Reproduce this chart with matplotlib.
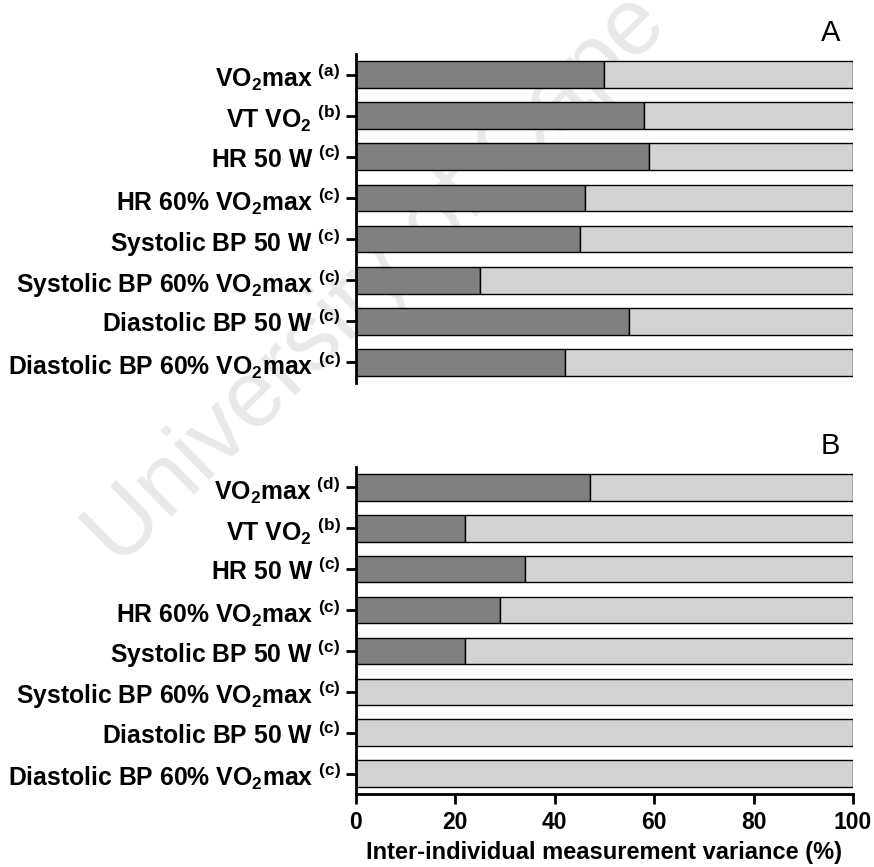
import numpy as np
import matplotlib.pyplot as plt

plt.rcParams['font.family'] = ['Liberation Sans', 'DejaVu Sans']
plt.rcParams['mathtext.fontset'] = 'custom'
plt.rcParams['mathtext.rm'] = 'Liberation Sans:bold'
plt.rcParams['mathtext.it'] = 'Liberation Sans:bold'
plt.rcParams['mathtext.bf'] = 'Liberation Sans:bold'
plt.rcParams['mathtext.default'] = 'rm'

# variables and the reference letter for each
variables = ['VO$_2$max', 'VT VO$_2$', 'HR 50 W', 'HR 60% VO$_2$max',
             'Systolic BP 50 W', 'Systolic BP 60% VO$_2$max',
             'Diastolic BP 50 W', 'Diastolic BP 60% VO$_2$max']
refs_a = ['a', 'b', 'c', 'c', 'c', 'c', 'c', 'c']
refs_b = ['d', 'b', 'c', 'c', 'c', 'c', 'c', 'c']

# inter-individual share of measurement variance (%)
inter_a = [50, 58, 59, 46, 45, 25, 55, 42]
inter_b = [47, 22, 34, 29, 22, 0, 0, 0]

xticks = [0, 20, 40, 60, 80, 100]

dark = '#808080'
light = '#d3d3d3'

fig = plt.figure(figsize=(8.74, 8.67), dpi=100)

# watermark behind the panels
fig.text(0.136, 0.344, 'University of Cape Town', fontsize=68,
         color='#e9e9e9', rotation=44.5, rotation_mode='anchor',
         ha='left', va='baseline', zorder=-1, fontweight='normal')

ax_a = fig.add_axes([0.4073, 0.5582, 0.5686, 0.3795])
ax_b = fig.add_axes([0.4073, 0.0842, 0.5686, 0.3772])


def panel(ax, inter, refs, letter, show_x):
    ax.set_facecolor('none')
    y = np.arange(len(inter))
    inter = np.array(inter, dtype=float)
    ax.barh(y, inter, height=0.65, color=dark, edgecolor='black',
            linewidth=1.0, zorder=2)
    ax.barh(y, 100 - inter, left=inter, height=0.65, color=light,
            edgecolor='black', linewidth=1.0, zorder=2)
    ax.set_xlim(0, 100)
    ax.set_ylim(7.5, -0.5)
    ax.set_yticks(y)
    ax.set_yticklabels([v + ' $^{(' + r + ')}$' for v, r in zip(variables, refs)],
                       fontsize=17.8, fontweight='bold')
    for s in ['top', 'right']:
        ax.spines[s].set_visible(False)
    ax.spines['left'].set_linewidth(2)
    ax.tick_params(axis='y', length=7, width=2, pad=4)
    if show_x:
        ax.spines['bottom'].set_linewidth(2)
        ax.set_xticks(xticks)
        ax.set_xticklabels([str(t) for t in xticks], fontsize=16.5,
                           fontweight='bold')
        ax.tick_params(axis='x', length=7, width=2, pad=5)
        ax.set_xlabel('Inter-individual measurement variance (%)',
                      fontsize=17, fontweight='bold', labelpad=5)
    else:
        ax.spines['bottom'].set_visible(False)
        ax.set_xticks([])
    ax.text(0.955, 1.02, letter, transform=ax.transAxes, fontsize=21,
            ha='center', va='bottom')


panel(ax_a, inter_a, refs_a, 'A', False)
panel(ax_b, inter_b, refs_b, 'B', True)

fig.savefig('out.png', dpi=100)
